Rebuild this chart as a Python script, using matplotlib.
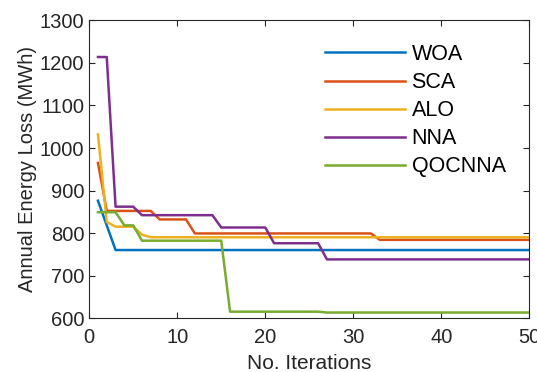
import matplotlib
matplotlib.use('Agg')
import matplotlib.pyplot as plt

plt.rcParams['font.family'] = ['Liberation Sans', 'DejaVu Sans']

# iteration numbers 1..50
iterations = list(range(1, 51))

# values (MWh)
woa = [876, 818] + [760] * 48
sca = [965, 852, 852, 852, 852, 852, 852, 832, 832, 832, 832,
       799, 799, 799, 799, 799, 799, 799, 799, 799, 799,
       799, 799, 799, 799, 799, 799, 799, 799, 799, 799, 799,
       784, 784, 784, 784, 784, 784, 784, 784, 784, 784,
       784, 784, 784, 784, 784, 784, 784, 784]
alo = [1032, 826, 815, 815, 815, 796] + [790] * 44
nna = [1214, 1214, 862, 862, 862,
       842, 842, 842, 842, 842, 842, 842, 842, 842,
       813, 813, 813, 813, 813, 813,
       776, 776, 776, 776, 776, 776,
       738, 738, 738, 738, 738, 738, 738, 738, 738, 738, 738, 738,
       738, 738, 738, 738, 738, 738, 738, 738, 738, 738, 738, 738]
qocnna = [849, 849, 849, 818, 818,
          782, 782, 782, 782, 782, 782, 782, 782, 782, 782,
          615, 615, 615, 615, 615, 615, 615, 615, 615, 615, 615,
          613, 613, 613, 613, 613, 613, 613, 613, 613, 613, 613, 613,
          613, 613, 613, 613, 613, 613, 613, 613, 613, 613, 613, 613]

names = ['WOA', 'SCA', 'ALO', 'NNA', 'QOCNNA']
colors = ['#0072BD', '#D95319', '#EDB120', '#7E2F8E', '#77AC30']

fig = plt.figure(figsize=(5.37, 3.72), dpi=100)
ax = fig.add_axes([0.166, 0.145, 0.82, 0.80])

for series, name, c in zip([woa, sca, alo, nna, qocnna], names, colors):
    ax.plot(iterations, series, color=c, linewidth=1.8, label=name)

ax.set_xlim(0, 50)
ax.set_ylim(600, 1300)
ax.set_xticks(range(0, 51, 10))
ax.set_yticks(range(600, 1301, 100))
ax.tick_params(direction='in', top=True, right=True, labelsize=14.5,
               colors='#262626', length=4, width=0.8)
ax.tick_params(axis='x', pad=7)
for s in ax.spines.values():
    s.set_color('#262626')
    s.set_linewidth(0.8)

ax.set_xlabel('No. Iterations', fontsize=15, color='#262626', labelpad=5)
ax.set_ylabel('Annual Energy Loss (MWh)', fontsize=14.5, color='#262626', labelpad=2)

ax.legend(loc='upper left', bbox_to_anchor=(0.517, 0.95), frameon=False,
          fontsize=15.5, handlelength=3.7, handletextpad=0.3, labelspacing=0.33,
          borderaxespad=0)

fig.savefig('out.png', dpi=100)
